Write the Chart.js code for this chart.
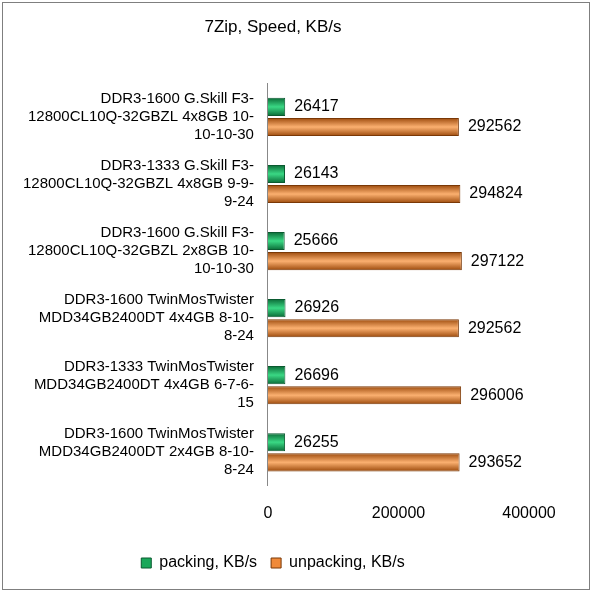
<!DOCTYPE html>
<html><head><meta charset="utf-8">
<script src="https://cdn.jsdelivr.net/npm/chart.js@4/dist/chart.umd.min.js"></script>
<style>html,body{margin:0;padding:0;background:#fff}#w{position:absolute;left:2px;top:2px;width:588px;height:588px;border:1px solid #7f7f7f;box-sizing:border-box}</style>
</head><body><div id="w"><canvas id="c"></canvas></div>
<script>
const categories = [
 ["DDR3-1600 G.Skill F3-","12800CL10Q-32GBZL 4x8GB 10-","10-10-30"],
 ["DDR3-1333 G.Skill F3-","12800CL10Q-32GBZL 4x8GB 9-9-","9-24"],
 ["DDR3-1600 G.Skill F3-","12800CL10Q-32GBZL 2x8GB 10-","10-10-30"],
 ["DDR3-1600 TwinMosTwister","MDD34GB2400DT 4x4GB 8-10-","8-24"],
 ["DDR3-1333 TwinMosTwister","MDD34GB2400DT 4x4GB 6-7-6-","15"],
 ["DDR3-1600 TwinMosTwister","MDD34GB2400DT 2x4GB 8-10-","8-24"]
];
const packing = [26417, 26143, 25666, 26926, 26696, 26255];
const unpacking = [292562, 294824, 297122, 292562, 296006, 293652];
const xTicks = [0, 200000, 400000];

function grad(cx, sign, c1, c2){
  const chart = cx.chart, y = chart.scales.y;
  if(!y || cx.dataIndex===undefined || !chart.chartArea) return c2;
  const pitch = (chart.chartArea.bottom-chart.chartArea.top)/categories.length;
  const center = y.getPixelForValue(cx.dataIndex) + sign*pitch*0.15;
  const h = pitch*0.27;
  const g = chart.ctx.createLinearGradient(0, center-h/2, 0, center+h/2);
  g.addColorStop(0,c1); g.addColorStop(0.5,c2); g.addColorStop(1,c1);
  return g;
}
const labelPlugin = {
  id:'vals',
  afterDatasetsDraw(chart){
    const c = chart.ctx;
    c.save(); c.font='16px "Liberation Sans", sans-serif'; c.fillStyle='#000'; c.textBaseline='middle';
    chart.data.datasets.forEach((ds,i)=>{
      chart.getDatasetMeta(i).data.forEach((b,j)=>{
        c.fillText(String(ds.data[j]), b.x+9, b.y);
      });
    });
    c.restore();
  }
};
new Chart(document.getElementById('c'), {
  type:'bar',
  data:{labels:categories, datasets:[
    {label:'packing, KB/s', data:packing, backgroundColor:(cx)=>grad(cx,-1,'#0a6a36','#3ad884'), borderColor:'#0a5a30', borderWidth:1},
    {label:'unpacking, KB/s', data:unpacking, backgroundColor:(cx)=>grad(cx,1,'#9c4a0c','#fbb070'), borderColor:'#7a3806', borderWidth:1}
  ]},
  options:{
    indexAxis:'y', responsive:true, maintainAspectRatio:false, animation:false,
    categoryPercentage:0.6, barPercentage:0.9,
    layout:{padding:{left:14,right:60,top:4,bottom:8}},
    plugins:{
      title:{display:true, text:'7Zip, Speed, KB/s', color:'#000', font:{family:'"Liberation Sans", sans-serif', size:17, weight:'normal'}, padding:{top:10,bottom:46}},
      legend:{position:'bottom', labels:{color:'#000', boxWidth:10, boxHeight:10, padding:14, font:{family:'"Liberation Sans", sans-serif', size:16},
        generateLabels(chart){ return [['packing, KB/s','#1aa85a','#0a5a30'],['unpacking, KB/s','#f08a3a','#7a3806']].map((a,i)=>({text:a[0],fillStyle:a[1],strokeStyle:a[2],lineWidth:1,datasetIndex:i,fontColor:'#000'})); }}},
      tooltip:{enabled:false}
    },
    scales:{
      x:{min:0,max:400000, afterBuildTicks(a){a.ticks=xTicks.map(v=>({value:v}));},
         grid:{display:false, drawTicks:false}, border:{display:false},
         ticks:{color:'#000', padding:18, callback:(v)=>String(v), font:{family:'"Liberation Sans", sans-serif', size:16}}},
      y:{grid:{display:false}, border:{display:true, color:'#888'},
         ticks:{color:'#000', font:{family:'"Liberation Sans", sans-serif', size:15}, padding:6}}
    }
  },
  plugins:[labelPlugin]
});
</script></body></html>
